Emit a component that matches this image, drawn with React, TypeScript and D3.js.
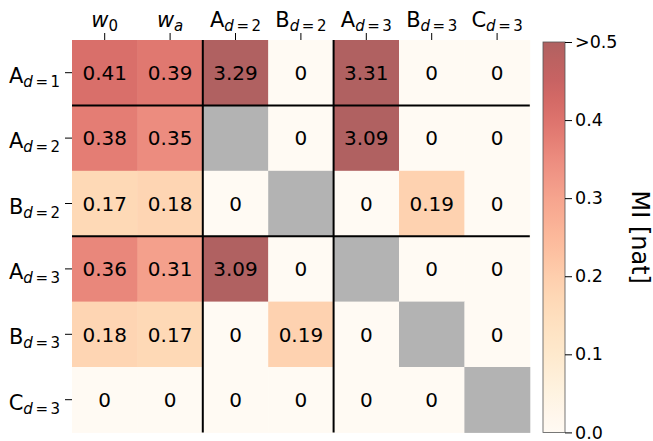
import React, { useEffect, useRef } from 'react'
import * as d3 from 'd3'

// labels: [main, subscript]
const colLabels: [string, string][] = [
  ['w', '0'], ['w', 'a'], ['A', 'd = 2'], ['B', 'd = 2'], ['A', 'd = 3'], ['B', 'd = 3'], ['C', 'd = 3'],
]
const rowLabels: [string, string][] = [
  ['A', 'd = 1'], ['A', 'd = 2'], ['B', 'd = 2'], ['A', 'd = 3'], ['B', 'd = 3'], ['C', 'd = 3'],
]
// NaN = masked (gray) cell
const rowA1 = [0.41, 0.39, 3.29, 0, 3.31, 0, 0]
const rowA2 = [0.38, 0.35, NaN, 0, 3.09, 0, 0]
const rowB2 = [0.17, 0.18, 0, NaN, 0, 0.19, 0]
const rowA3 = [0.36, 0.31, 3.09, 0, NaN, 0, 0]
const rowB3 = [0.18, 0.17, 0, 0.19, 0, NaN, 0]
const rowC3 = [0, 0, 0, 0, 0, 0, NaN]
const matrix = [rowA1, rowA2, rowB2, rowA3, rowB3, rowC3]

const cbTicks = [0, 0.1, 0.2, 0.3, 0.4, 0.5]
const cbTickLabels = ['0.0', '0.1', '0.2', '0.3', '0.4', '>0.5']
const vSeparators = [2, 4] // after these column counts
const hSeparators = [1, 3] // after these row counts

export default function App() {
  const ref = useRef<SVGSVGElement>(null)

  useEffect(() => {
    const svg = d3.select(ref.current)
    svg.selectAll('*').remove()

    const left = 72, top = 40, cell = 65.4
    const width = cell * colLabels.length
    const height = cell * rowLabels.length
    const font = 'DejaVu Sans, sans-serif'
    const labSize = 21, subSize = 15

    const x = d3.scaleBand<number>().domain(d3.range(colLabels.length)).range([left, left + width])
    const y = d3.scaleBand<number>().domain(d3.range(rowLabels.length)).range([top, top + height])

    const alpha = 0.62
    const mix = (c: string) => {
      const rgb = d3.rgb(c)
      return d3.rgb(255 - alpha * (255 - rgb.r), 255 - alpha * (255 - rgb.g), 255 - alpha * (255 - rgb.b)).formatHex()
    }
    const color = (v: number) => mix(d3.interpolateOrRd(Math.min(v, 0.5) / 0.5))

    const g = svg.append('g')
    matrix.forEach((row, i) => {
      row.forEach((v, j) => {
        g.append('rect')
          .attr('x', x(j)!)
          .attr('y', y(i)!)
          .attr('width', x.bandwidth() + 0.5)
          .attr('height', y.bandwidth() + 0.5)
          .attr('fill', isNaN(v) ? '#b3b3b3' : color(v))
        if (!isNaN(v)) {
          g.append('text')
            .attr('x', x(j)! + x.bandwidth() / 2)
            .attr('y', y(i)! + y.bandwidth() / 2)
            .attr('dy', '0.36em')
            .attr('text-anchor', 'middle')
            .attr('font-family', font)
            .attr('font-size', 20)
            .attr('fill', '#000')
            .text(v === 0 ? '0' : v.toFixed(2))
        }
      })
    })

    // separators
    vSeparators.forEach(c => {
      g.append('line')
        .attr('x1', x(c)!).attr('x2', x(c)!)
        .attr('y1', top).attr('y2', top + height)
        .attr('stroke', '#000').attr('stroke-width', 2)
    })
    hSeparators.forEach(r => {
      g.append('line')
        .attr('x1', left).attr('x2', left + width)
        .attr('y1', y(r)!).attr('y2', y(r)!)
        .attr('stroke', '#000').attr('stroke-width', 2)
    })

    function appendSub(t: any, sub: string, italic: boolean) {
      const parts = sub.split(' ')
      if (parts.length === 1) {
        t.append('tspan').attr('dy', 4).attr('font-size', subSize)
          .attr('font-style', italic ? 'italic' : 'normal').text(sub)
      } else {
        t.append('tspan').attr('dy', 4).attr('font-size', subSize).attr('font-style', 'italic').text(parts[0])
        t.append('tspan').attr('dx', 2.5).attr('font-size', subSize).text(parts[1])
        t.append('tspan').attr('dx', 2.5).attr('font-size', subSize).text(parts[2])
      }
    }

    // top labels
    colLabels.forEach((lab, j) => {
      const cx = x(j)! + x.bandwidth() / 2
      g.append('line').attr('x1', cx).attr('x2', cx).attr('y1', top).attr('y2', top - 7)
        .attr('stroke', '#000').attr('stroke-width', 1)
      const t = g.append('text')
        .attr('x', cx).attr('y', 27)
        .attr('text-anchor', 'middle')
        .attr('font-family', font)
        .attr('font-size', labSize)
      const isW = lab[0] === 'w'
      t.append('tspan').attr('font-style', isW ? 'italic' : 'normal').text(lab[0])
      appendSub(t, lab[1], isW && lab[1] !== '0')
    })

    // left labels
    rowLabels.forEach((lab, i) => {
      const cy = y(i)! + y.bandwidth() / 2
      g.append('line').attr('x1', left).attr('x2', left - 7).attr('y1', cy).attr('y2', cy)
        .attr('stroke', '#000').attr('stroke-width', 1)
      const t = g.append('text')
        .attr('x', left - 12).attr('y', cy + 10)
        .attr('text-anchor', 'end')
        .attr('font-family', font)
        .attr('font-size', labSize)
      t.append('tspan').text(lab[0])
      appendSub(t, lab[1], false)
    })

    // colorbar
    const cbX = 543, cbW = 22, cbTop = 42, cbBot = top + height
    const cy = d3.scaleLinear().domain([0, 0.5]).range([cbBot, cbTop])
    const defs = svg.append('defs')
    const grad = defs.append('linearGradient').attr('id', 'cbgrad')
      .attr('x1', 0).attr('y1', 1).attr('x2', 0).attr('y2', 0)
    d3.range(0, 1.0001, 0.05).forEach(t => {
      grad.append('stop').attr('offset', t).attr('stop-color', color(t * 0.5))
    })
    svg.append('rect').attr('x', cbX).attr('y', cbTop).attr('width', cbW).attr('height', cbBot - cbTop)
      .attr('fill', 'url(#cbgrad)').attr('stroke', '#555').attr('stroke-width', 0.8)
    const axis = d3.axisRight(cy).tickValues(cbTicks).tickSize(7).tickPadding(3)
      .tickFormat((_d, i) => cbTickLabels[i])
    const ag = svg.append('g').attr('transform', `translate(${cbX + cbW},0)`).call(axis)
    ag.select('.domain').remove()
    ag.selectAll('text').attr('font-family', font).attr('font-size', 17.5).attr('fill', '#000')
    ag.selectAll('line').attr('stroke', '#000')

    svg.append('text')
      .attr('transform', `translate(640,${(cbTop + cbBot) / 2}) rotate(90)`)
      .attr('text-anchor', 'middle')
      .attr('dy', '0.35em')
      .attr('font-family', font)
      .attr('font-size', 24)
      .text('MI [nat]')
  }, [])

  return (
    <svg ref={ref} width={653} height={441} style={{ position: 'absolute', left: 0, top: 0, background: '#fff' }} />
  )
}
